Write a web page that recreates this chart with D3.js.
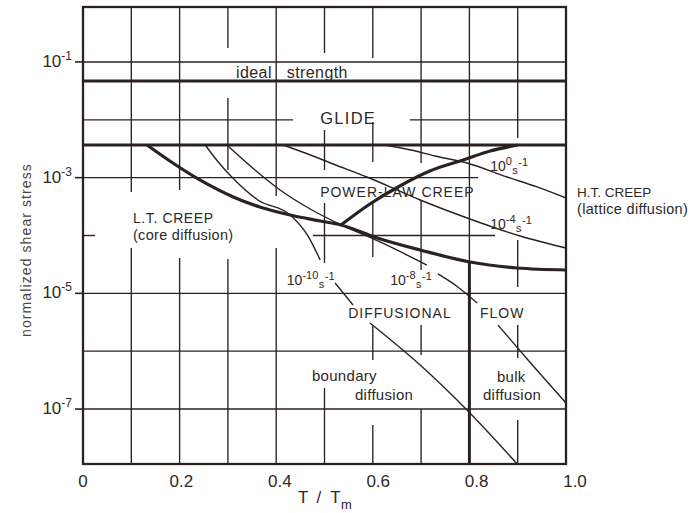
<!DOCTYPE html>
<html><head><meta charset="utf-8">
<script src="https://cdn.jsdelivr.net/npm/d3@7"></script>
<style>body{margin:0;background:#fff}svg{display:block}</style>
</head><body>
<svg id="chart" width="692" height="513"></svg>
<script>
// ---------- data (x = T/Tm, values given as log10 of normalized shear stress) ----------
const xTickValues = [0, 0.2, 0.4, 0.6, 0.8, 1.0];
const xTickLabels = ["0", "0.2", "0.4", "0.6", "0.8", "1.0"];
const yTickExponents = [-1, -3, -5, -7];

// horizontal grid pieces: [exponent, [[x0,x1],...]]
const hGrid = [
  [-1, [[0, 1]]],
  [-2, [[0, 0.435], [0.677, 1]]],
  [-3, [[0, 0.818]]],
  [-4, [[0, 0.025], [0.476, 0.853]]],
  [-5, [[0, 1]]],
  [-6, [[0, 1]]],
  [-7, [[0, 1]]]
];
// vertical grid pieces: [T/Tm, [[eTop,eBottom],...]] (null = frame edge)
const vGrid = [
  [0.1, [[null, -3.248], [-4.216, null]]],
  [0.2, [[null, -3.213], [-4.389, null]]],
  [0.3, [[null, -0.759], [-1.623, -2.868], [-4.406, null]]],
  [0.4, [[null, -3.317], [-4.216, null]]],
  [0.5, [[null, -0.845], [-2.176, -2.868], [-3.438, -4.475], [-6.636, null]]],
  [0.6, [[null, -0.932], [-2.038, -2.729], [-3.421, -4.372], [-5.547, -6.152], [-7.276, null]]],
  [0.7, [[null, -2.747], [-3.386, -4.596], [-5.547, -6.066], [-6.999, null]]],
  [0.8, [[null, -4.458]]],
  [0.9, [[null, -2.314], [-4.078, -4.89], [-5.547, -6.117], [-7.189, null]]]
];

const idealStrength = -1.329;   // log10 stress
const glideLimit = -2.436;      // log10 stress

// field boundaries (thick)
const ltCreepBoundary = [[0.1325,-2.436],[0.186,-2.747],[0.242,-3.04],[0.311,-3.334],[0.366,-3.507],[0.429,-3.646],[0.491,-3.749],[0.534,-3.818],[0.609,-4.043],[0.698,-4.25],[0.801,-4.458],[0.899,-4.562],[1.0,-4.596]];
const htCreepBoundary = [[0.534,-3.818],[0.594,-3.455],[0.656,-3.144],[0.718,-2.885],[0.787,-2.695],[0.843,-2.539],[0.90,-2.436]];
const diffusionSplit  = [[0.8,-4.458],[0.8,null]];

// strain-rate contours (thin)
const rate1e0  = [[[0.625,-2.436],[0.679,-2.522],[0.729,-2.626],[0.795,-2.747],[0.878,-2.989],[0.94,-3.161],[1.0,-3.352]]];
const rate1e_4 = [[[0.414,-2.436],[0.46,-2.574],[0.518,-2.764],[0.588,-2.989],[0.698,-3.386],[0.801,-3.715],[0.905,-4.009],[1.0,-4.216]]];
const rate1e_8 = [
  [[0.298,-2.436],[0.356,-2.868],[0.408,-3.213],[0.474,-3.559],[0.528,-3.79],[0.615,-4.112],[0.712,-4.51]],
  [[0.735,-4.665],[0.776,-4.89],[0.816,-5.167]],
  [[0.859,-5.547],[0.925,-6.187],[1.0,-6.895]]
];
const rate1e_10 = [
  [[0.253,-2.436],[0.28,-2.729],[0.308,-2.989],[0.362,-3.386],[0.429,-3.646],[0.466,-4.009],[0.491,-4.423]],
  [[0.522,-4.821],[0.559,-5.201]],
  [[0.594,-5.512],[0.698,-6.238],[0.795,-7.016],[0.899,-7.95]]
];
const rateExponents = ["0", "-4", "-8", "-10"];

// ---------- layout ----------
const svg = d3.select("#chart");
const ink = "#2a2220", txt = "#2e2826";
const font = "'Liberation Sans', Arial, Helvetica, sans-serif";
const eTop = -0.05, eBot = -7.95;
const x = d3.scaleLinear().domain([0, 1]).range([83, 566]);
const y = d3.scaleLog().domain([Math.pow(10, eBot), Math.pow(10, eTop)]).range([464, 7]);
const Y = e => y(Math.pow(10, e));
const Yv = (e, isTop) => e == null ? (isTop ? y.range()[1] : y.range()[0]) : y(Math.pow(10, e));

const g = svg.append("g");

// horizontal grid
hGrid.forEach(([e, pieces]) => pieces.forEach(([a, b]) => {
  g.append("line").attr("x1", x(a)).attr("x2", x(b)).attr("y1", Y(e)).attr("y2", Y(e))
    .attr("stroke", ink).attr("stroke-width", 1.35);
}));
// vertical grid
vGrid.forEach(([t, pieces]) => pieces.forEach(([a, b]) => {
  g.append("line").attr("x1", x(t)).attr("x2", x(t)).attr("y1", Yv(a, true)).attr("y2", Yv(b, false))
    .attr("stroke", ink).attr("stroke-width", 1.35);
}));

// thick horizontal boundaries
[idealStrength, glideLimit].forEach(e => {
  g.append("line").attr("x1", x(0)).attr("x2", x(1)).attr("y1", Y(e)).attr("y2", Y(e))
    .attr("stroke", ink).attr("stroke-width", 3);
});

const line = d3.line().x(d => x(d[0])).y(d => Yv(d[1], false)).curve(d3.curveMonotoneX);
[ltCreepBoundary, htCreepBoundary].forEach(pts => {
  g.append("path").attr("d", line(pts)).attr("fill", "none").attr("stroke", ink).attr("stroke-width", 3.2).attr("stroke-linejoin", "round");
});
g.append("line").attr("x1", x(diffusionSplit[0][0])).attr("x2", x(diffusionSplit[1][0]))
  .attr("y1", Yv(diffusionSplit[0][1], true)).attr("y2", Yv(diffusionSplit[1][1], false))
  .attr("stroke", ink).attr("stroke-width", 3);

[rate1e0, rate1e_4, rate1e_8, rate1e_10].forEach(segs => segs.forEach(pts => {
  g.append("path").attr("d", line(pts)).attr("fill", "none").attr("stroke", ink).attr("stroke-width", 1.4);
}));

// frame
g.append("rect").attr("x", x(0)).attr("y", y.range()[1]).attr("width", x(1) - x(0)).attr("height", y.range()[0] - y.range()[1])
  .attr("fill", "none").attr("stroke", ink).attr("stroke-width", 2.3);

// y ticks + labels
yTickExponents.forEach(e => {
  const yy = Y(e);
  g.append("line").attr("x1", x(0) - 8).attr("x2", x(0)).attr("y1", yy).attr("y2", yy).attr("stroke", ink).attr("stroke-width", 1.6);
  const t = g.append("text").attr("x", x(0) - 11).attr("y", yy + 5).attr("text-anchor", "end")
    .attr("font-family", font).attr("fill", txt).attr("font-size", 17);
  t.append("tspan").text("10");
  t.append("tspan").attr("font-size", 12).attr("dy", -7).text(String(e));
});

// x tick labels
xTickValues.forEach((v, i) => {
  g.append("text").attr("x", x(v) + v * 9).attr("y", 487).attr("text-anchor", "middle")
    .attr("font-family", font).attr("fill", txt).attr("font-size", 17).text(xTickLabels[i]);
});

// axis titles
const xt = g.append("text").attr("x", 298).attr("y", 503).attr("font-family", font).attr("fill", txt).attr("font-size", 17);
xt.append("tspan").text("T");
xt.append("tspan").attr("dx", 8).text("/");
xt.append("tspan").attr("dx", 9).text("T");
xt.append("tspan").attr("font-size", 13).attr("dy", 6).attr("dx", 0.5).text("m");
g.append("text").attr("transform", "translate(31,250) rotate(-90)").attr("text-anchor", "middle")
  .attr("font-family", font).attr("fill", "#4a4340").attr("font-size", 14).attr("letter-spacing", 1.1)
  .text("normalized shear stress");

// region labels (position in data units)
const regionLabels = [
  {text: "ideal", t: 0.391, e: -1.277, anchor: "end", size: 16, ls: 0.4},
  {text: "strength", t: 0.422, e: -1.277, size: 16, ls: 0.4},
  {text: "GLIDE", t: 0.491, e: -2.072, size: 16.5, ls: 1.3},
  {text: "POWER-LAW CREEP", t: 0.491, e: -3.334, size: 14, ls: 1},
  {text: "L.T. CREEP", t: 0.1035, e: -3.784, size: 14, ls: 0.6},
  {text: "(core diffusion)", t: 0.1035, e: -4.078, size: 14.5, ls: 0.3},
  {text: "H.T. CREEP", t: 1.023, e: -3.334, size: 13.5, ls: 0},
  {text: "(lattice diffusion)", t: 1.023, e: -3.628, size: 14.5, ls: 0.3},
  {text: "DIFFUSIONAL", t: 0.549, e: -5.426, size: 14, ls: 1},
  {text: "FLOW", t: 0.822, e: -5.426, size: 14, ls: 1},
  {text: "boundary", t: 0.474, e: -6.515, size: 15, ls: 0.3},
  {text: "diffusion", t: 0.563, e: -6.843, size: 15, ls: 0.3},
  {text: "bulk", t: 0.857, e: -6.532, size: 15, ls: 0.3},
  {text: "diffusion", t: 0.828, e: -6.843, size: 15, ls: 0.3}
];
regionLabels.forEach(d => {
  g.append("text").attr("x", x(d.t)).attr("y", Y(d.e)).attr("text-anchor", d.anchor || "start")
    .attr("font-family", font).attr("fill", txt).attr("font-size", d.size).attr("letter-spacing", d.ls).text(d.text);
});

// strain-rate labels
const rateLabels = [
  {exp: rateExponents[0], t: 0.843, e: -2.885},
  {exp: rateExponents[1], t: 0.843, e: -3.888},
  {exp: rateExponents[2], t: 0.636, e: -4.856},
  {exp: rateExponents[3], t: 0.422, e: -4.856}
];
rateLabels.forEach(d => {
  const t = g.append("text").attr("x", x(d.t)).attr("y", Y(d.e)).attr("font-family", font).attr("fill", txt).attr("font-size", 14);
  t.append("tspan").text("10");
  t.append("tspan").attr("font-size", 11).attr("dy", -6).text(d.exp);
  t.append("tspan").attr("font-size", 11).attr("dy", 9).attr("dx", 0.5).text("s");
  t.append("tspan").attr("font-size", 11).attr("dy", -8).attr("dx", 0.5).text("-1");
});
</script>
</body></html>
